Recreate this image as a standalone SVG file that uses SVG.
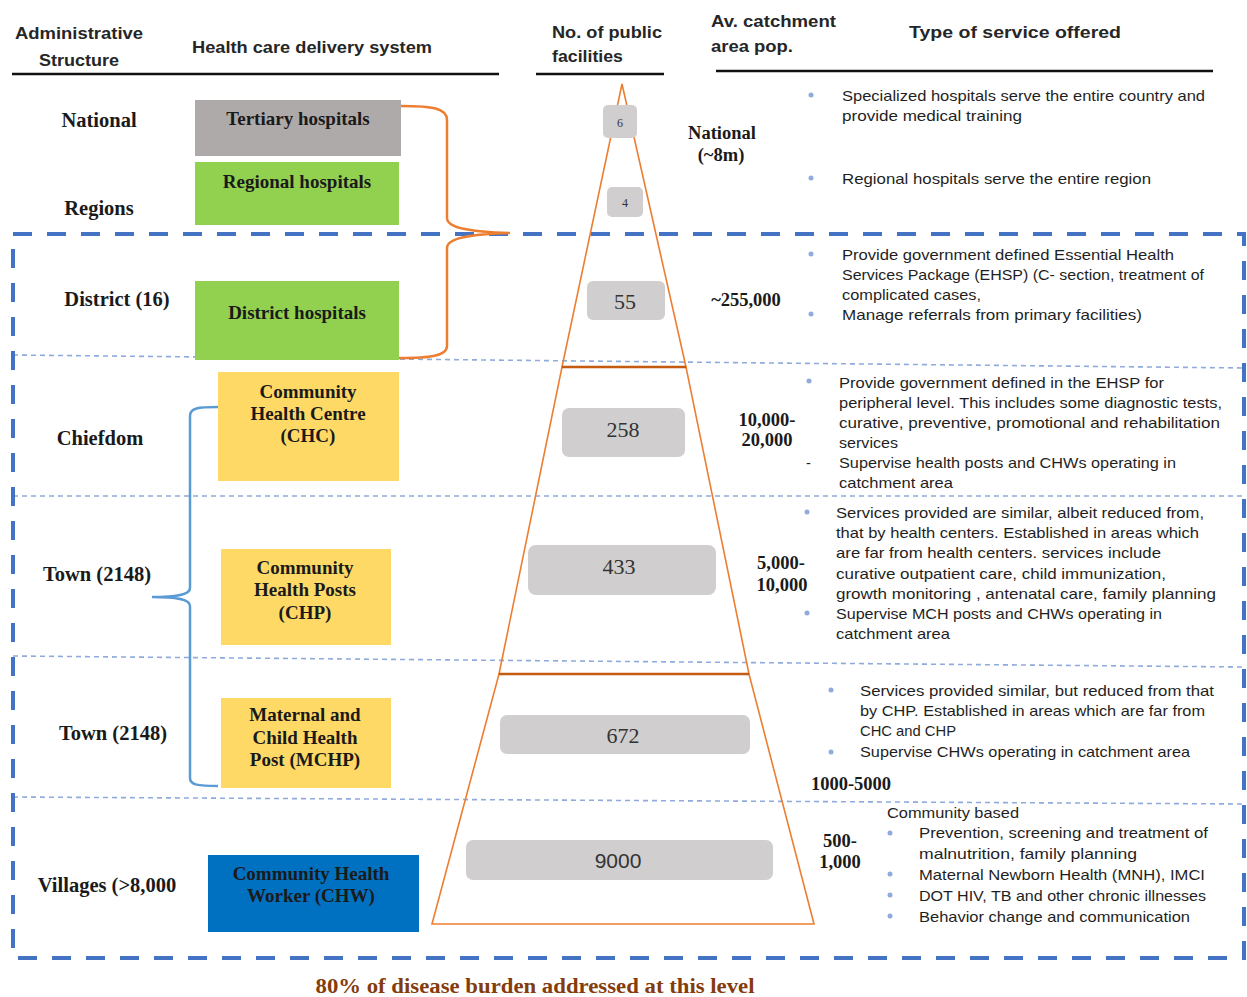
<svg xmlns="http://www.w3.org/2000/svg" width="1247" height="997" viewBox="0 0 1247 997">
<style>
.hdr{font-family:"Liberation Sans",Arial,sans-serif;font-weight:bold;font-size:17px;fill:#262626}
.lvl{font-family:"Liberation Serif","Times New Roman",serif;font-weight:bold;font-size:20.5px;fill:#1a1a1a;text-anchor:middle}
.nt{font-family:"Liberation Serif","Times New Roman",serif;font-weight:bold;font-size:19px;fill:#1a1a1a;text-anchor:middle}
.num{font-family:"Liberation Serif","Times New Roman",serif;font-size:22px;fill:#333;text-anchor:middle}
.cat{font-family:"Liberation Serif","Times New Roman",serif;font-weight:bold;font-size:18.5px;fill:#1a1a1a;text-anchor:middle}
.svc{font-family:"Liberation Sans",Arial,sans-serif;font-size:14.5px;fill:#1f1f1f}
.nbox{fill:#D0CECE}
.bul{fill:#8FAADC}
.thin{stroke:#8FAADC;stroke-width:1.6;stroke-dasharray:5 4;fill:none}
.pyr{fill:none;stroke:#ED7D31;stroke-width:1.6;stroke-linejoin:miter}
.tier{stroke:#C55A11;stroke-width:2.6}
</style>

<g id="headers">
<text class="hdr" x="15" y="39" textLength="128" lengthAdjust="spacingAndGlyphs">Administrative</text>
<text class="hdr" x="39" y="66" textLength="80" lengthAdjust="spacingAndGlyphs">Structure</text>
<text class="hdr" x="192" y="53" textLength="240" lengthAdjust="spacingAndGlyphs">Health care delivery system</text>
<text class="hdr" x="552" y="38" textLength="110" lengthAdjust="spacingAndGlyphs">No. of public</text>
<text class="hdr" x="552" y="62" textLength="71" lengthAdjust="spacingAndGlyphs">facilities</text>
<text class="hdr" x="711" y="27" textLength="125" lengthAdjust="spacingAndGlyphs">Av. catchment</text>
<text class="hdr" x="711" y="52" textLength="82" lengthAdjust="spacingAndGlyphs">area pop.</text>
<text class="hdr" x="909" y="38" textLength="212" lengthAdjust="spacingAndGlyphs">Type of service offered</text>
<line x1="12" y1="74" x2="499" y2="74" stroke="#111" stroke-width="2.5"/>
<line x1="536" y1="74" x2="664" y2="74" stroke="#111" stroke-width="2.5"/>
<line x1="716" y1="71" x2="1213" y2="71" stroke="#111" stroke-width="2.5"/>
</g>

<g id="separators">
<line class="thin" x1="13" y1="355" x2="1245" y2="368"/>
<line class="thin" x1="13" y1="496" x2="1245" y2="496"/>
<line class="thin" x1="13" y1="656" x2="1245" y2="667"/>
<line class="thin" x1="13" y1="797" x2="1245" y2="804"/>
<rect x="13" y="234" width="1231" height="724" fill="none" stroke="#4472C4" stroke-width="4" stroke-dasharray="19 15"/>
</g>

<g id="levels">
<text class="lvl" x="99" y="127">National</text>
<text class="lvl" x="99" y="215">Regions</text>
<text class="lvl" x="117" y="306">District (16)</text>
<text class="lvl" x="100" y="445">Chiefdom</text>
<text class="lvl" x="97" y="581">Town (2148)</text>
<text class="lvl" x="113" y="740">Town (2148)</text>
<text class="lvl" x="107" y="892">Villages (&gt;8,000</text>
</g>

<g id="connectors">
<path d="M401,106 C432,106 447,108 447,120 L447,218 C447,228 470,232 510,233 C470,234 447,238 447,248 L447,346 C447,356 430,358 399,358" fill="none" stroke="#ED7D31" stroke-width="2.5"/>
<path d="M218,407 C198,407 190,408 190,416 L190,588 C190,594 180,597 152,597 C180,597 190,600 190,606 L190,778 C190,785 198,786 218,786" fill="none" stroke="#5B9BD5" stroke-width="2.5"/>
</g>

<g id="tertiary"><rect x="195" y="100" width="206" height="56" fill="#AEAAAA"/><text class="nt" x="298" y="125">Tertiary hospitals</text></g>
<g id="regional"><rect x="195" y="162" width="204" height="63" fill="#92D050"/><text class="nt" x="297" y="188">Regional hospitals</text></g>
<g id="district"><rect x="195" y="281" width="204" height="79" fill="#92D050"/><text class="nt" x="297" y="319">District hospitals</text></g>
<g id="chc"><rect x="218" y="372" width="181" height="109" fill="#FFD966"/><text class="nt" x="308" y="398">Community</text><text class="nt" x="308" y="420">Health Centre</text><text class="nt" x="308" y="442">(CHC)</text></g>
<g id="chp"><rect x="221" y="549" width="170" height="96" fill="#FFD966"/><text class="nt" x="305" y="574">Community</text><text class="nt" x="305" y="596">Health Posts</text><text class="nt" x="305" y="619">(CHP)</text></g>
<g id="mchp"><rect x="221" y="698" width="170" height="90" fill="#FFD966"/><text class="nt" x="305" y="721">Maternal and</text><text class="nt" x="305" y="744">Child Health</text><text class="nt" x="305" y="766">Post (MCHP)</text></g>
<g id="chw"><rect x="208" y="855" width="211" height="77" fill="#0070C0"/><text class="nt" x="311" y="880">Community Health</text><text class="nt" x="311" y="902">Worker (CHW)</text></g>

<g id="pyramid">
<polygon class="pyr" points="622,84 686,367 562,367"/>
<polygon class="pyr" points="562,367 686,367 749,674 499,674"/>
<polygon class="pyr" points="499,674 749,674 814,924 432,924"/>
<line class="tier" x1="562" y1="367" x2="686" y2="367"/>
<line class="tier" x1="499" y1="674" x2="749" y2="674"/>
</g>

<g id="counts">
<rect class="nbox" x="603" y="105" width="34" height="33" rx="5"/><text class="num" x="620" y="127" style="font-size:12px">6</text>
<rect class="nbox" x="607" y="187" width="36" height="30" rx="5"/><text class="num" x="625" y="207" style="font-size:12px">4</text>
<rect class="nbox" x="587" y="281" width="78" height="39" rx="6"/><text class="num" x="625" y="309">55</text>
<rect class="nbox" x="562" y="408" width="123" height="49" rx="7"/><text class="num" x="623" y="437">258</text>
<rect class="nbox" x="528" y="545" width="188" height="50" rx="8"/><text class="num" x="619" y="574">433</text>
<rect class="nbox" x="500" y="715" width="250" height="39" rx="7"/><text class="num" x="623" y="743">672</text>
<rect class="nbox" x="466" y="840" width="307" height="40" rx="7"/><text class="num" x="618" y="868" style="font-family:'Liberation Sans',Arial,sans-serif;font-size:21px">9000</text>
</g>

<g id="catchment">
<text class="cat" x="722" y="139">National</text>
<text class="cat" x="721" y="161">(~8m)</text>
<text class="cat" x="746" y="306">~255,000</text>
<text class="cat" x="767" y="426">10,000-</text>
<text class="cat" x="767" y="446">20,000</text>
<text class="cat" x="781" y="569">5,000-</text>
<text class="cat" x="782" y="591">10,000</text>
<text class="cat" x="851" y="790">1000-5000</text>
<text class="cat" x="840" y="847">500-</text>
<text class="cat" x="840" y="868">1,000</text>
</g>

<g id="services">
<circle class="bul" cx="811" cy="95" r="2.5"/>
<text class="svc" x="842" y="101" textLength="363" lengthAdjust="spacingAndGlyphs">Specialized hospitals serve the entire country and</text>
<text class="svc" x="842" y="121" textLength="180" lengthAdjust="spacingAndGlyphs">provide medical training</text>
<circle class="bul" cx="811" cy="178" r="2.5"/>
<text class="svc" x="842" y="184" textLength="309" lengthAdjust="spacingAndGlyphs">Regional  hospitals serve the entire region</text>

<circle class="bul" cx="811" cy="254" r="2.5"/>
<text class="svc" x="842" y="260" textLength="332" lengthAdjust="spacingAndGlyphs">Provide government defined Essential Health</text>
<text class="svc" x="842" y="280" textLength="362" lengthAdjust="spacingAndGlyphs">Services Package (EHSP) (C- section, treatment of</text>
<text class="svc" x="842" y="300" textLength="139" lengthAdjust="spacingAndGlyphs">complicated cases,</text>
<circle class="bul" cx="811" cy="314" r="2.5"/>
<text class="svc" x="842" y="320" textLength="300" lengthAdjust="spacingAndGlyphs">Manage referrals from primary facilities)</text>

<circle class="bul" cx="809" cy="381" r="2.5"/>
<text class="svc" x="839" y="388" textLength="325" lengthAdjust="spacingAndGlyphs">Provide government defined in the EHSP for</text>
<text class="svc" x="839" y="408" textLength="383" lengthAdjust="spacingAndGlyphs">peripheral level. This includes some diagnostic tests,</text>
<text class="svc" x="839" y="428" textLength="381" lengthAdjust="spacingAndGlyphs">curative, preventive, promotional and rehabilitation</text>
<text class="svc" x="839" y="448" textLength="59" lengthAdjust="spacingAndGlyphs">services</text>
<text class="svc" x="806" y="468">-</text>
<text class="svc" x="839" y="468" textLength="337" lengthAdjust="spacingAndGlyphs">Supervise health posts and CHWs operating in</text>
<text class="svc" x="839" y="488" textLength="114" lengthAdjust="spacingAndGlyphs">catchment area</text>

<circle class="bul" cx="807" cy="512" r="2.5"/>
<text class="svc" x="836" y="518" textLength="368" lengthAdjust="spacingAndGlyphs">Services provided are similar, albeit reduced from,</text>
<text class="svc" x="836" y="538" textLength="363" lengthAdjust="spacingAndGlyphs">that by health centers. Established in areas which</text>
<text class="svc" x="836" y="558" textLength="325" lengthAdjust="spacingAndGlyphs">are far from health centers.  services include</text>
<text class="svc" x="836" y="579" textLength="330" lengthAdjust="spacingAndGlyphs">curative outpatient care, child immunization,</text>
<text class="svc" x="836" y="599" textLength="380" lengthAdjust="spacingAndGlyphs">growth monitoring , antenatal care, family planning</text>
<circle class="bul" cx="807" cy="613" r="2.5"/>
<text class="svc" x="836" y="619" textLength="326" lengthAdjust="spacingAndGlyphs">Supervise MCH posts and CHWs operating in</text>
<text class="svc" x="836" y="639" textLength="114" lengthAdjust="spacingAndGlyphs">catchment area</text>

<circle class="bul" cx="831" cy="690" r="2.5"/>
<text class="svc" x="860" y="696" textLength="354" lengthAdjust="spacingAndGlyphs">Services provided similar, but reduced from that</text>
<text class="svc" x="860" y="716" textLength="345" lengthAdjust="spacingAndGlyphs">by CHP. Established in areas which are far from</text>
<text class="svc" x="860" y="736" textLength="96" lengthAdjust="spacingAndGlyphs">CHC and CHP</text>
<circle class="bul" cx="831" cy="752" r="2.5"/>
<text class="svc" x="860" y="757" textLength="330" lengthAdjust="spacingAndGlyphs">Supervise CHWs operating in catchment area</text>

<text class="svc" x="887" y="818" textLength="132" lengthAdjust="spacingAndGlyphs">Community based</text>
<circle class="bul" cx="890" cy="833" r="2.5"/>
<text class="svc" x="919" y="838" textLength="289" lengthAdjust="spacingAndGlyphs">Prevention, screening and treatment of</text>
<text class="svc" x="919" y="859" textLength="218" lengthAdjust="spacingAndGlyphs">malnutrition,  family planning</text>
<circle class="bul" cx="890" cy="874" r="2.5"/>
<text class="svc" x="919" y="880" textLength="286" lengthAdjust="spacingAndGlyphs">Maternal Newborn Health (MNH), IMCI</text>
<circle class="bul" cx="890" cy="895" r="2.5"/>
<text class="svc" x="919" y="901" textLength="287" lengthAdjust="spacingAndGlyphs">DOT HIV, TB and other chronic illnesses</text>
<circle class="bul" cx="890" cy="916" r="2.5"/>
<text class="svc" x="919" y="922" textLength="271" lengthAdjust="spacingAndGlyphs">Behavior change and communication</text>
</g>

<g id="footer">
<text x="535" y="993" text-anchor="middle" textLength="439" lengthAdjust="spacingAndGlyphs" style="font-family:'Liberation Serif','Times New Roman',serif;font-weight:bold;font-size:20px;fill:#843C0C">80% of disease burden addressed at this level</text>
</g>
</svg>
